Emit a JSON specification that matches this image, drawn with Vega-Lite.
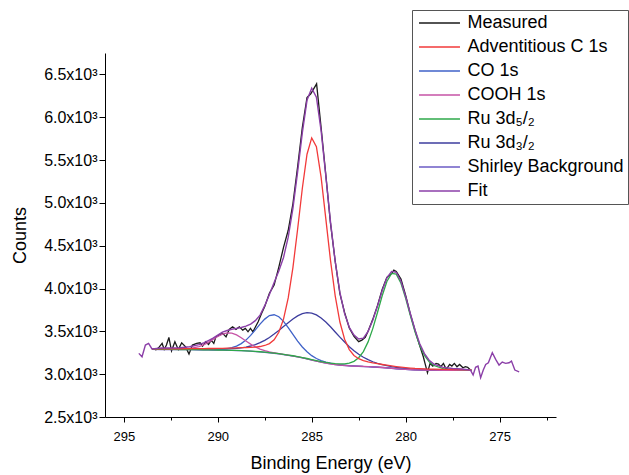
{
  "$schema": "https://vega.github.io/schema/vega-lite/v6.json",
  "width": 451,
  "height": 364,
  "autosize": {"type": "none"},
  "padding": {"left": 105, "top": 53, "right": 73, "bottom": 58},
  "background": "white",
  "config": {
    "view": {"stroke": null},
    "font": "Liberation Sans",
    "axis": {"domainColor": "#000", "tickColor": "#000", "labelColor": "#000", "titleColor": "#000", "labelFont": "Liberation Sans", "titleFont": "Liberation Sans", "titleFontWeight": "normal", "grid": false, "domainWidth": 1, "tickWidth": 1, "labelFlush": false, "labelOverlap": false, "labelBound": false},
    "axisY": {
      "values": [2500, 2750, 3000, 3250, 3500, 3750, 4000, 4250, 4500, 4750, 5000, 5250, 5500, 5750, 6000, 6250, 6500, 6750],
      "labelExpr": "datum.value % 500 === 0 ? format(datum.value / 1000, '.1f') + 'x10³' : ''",
      "tickSize": {"condition": {"test": "datum.value % 500 === 0", "value": 6}, "value": 3},
      "labelFontSize": 16, "labelPadding": 2,
      "titleFontSize": 18, "titleX": -76, "titleBaseline": "bottom"
    },
    "legend": {"labelFont": "Liberation Sans"}
  },
  "datasets": {
    "meas": [
      {"x": 293.32, "y": 3281}, {"x": 293.15, "y": 3308}, {"x": 292.96, "y": 3359}, {"x": 292.85, "y": 3289}, {"x": 292.73, "y": 3340}, {"x": 292.6, "y": 3429}, {"x": 292.46, "y": 3273}, {"x": 292.28, "y": 3378}, {"x": 292.1, "y": 3289}, {"x": 291.92, "y": 3366}, {"x": 291.71, "y": 3319}, {"x": 291.53, "y": 3234}, {"x": 291.35, "y": 3340}, {"x": 291.12, "y": 3359}, {"x": 290.94, "y": 3366}, {"x": 290.81, "y": 3328}, {"x": 290.64, "y": 3378}, {"x": 290.49, "y": 3347}, {"x": 290.35, "y": 3398}, {"x": 290.21, "y": 3359}, {"x": 290.1, "y": 3436}, {"x": 289.92, "y": 3456}, {"x": 289.74, "y": 3476}, {"x": 289.56, "y": 3436}, {"x": 289.39, "y": 3523}, {"x": 289.21, "y": 3553}, {"x": 289.03, "y": 3523}, {"x": 288.85, "y": 3553}, {"x": 288.67, "y": 3514}, {"x": 288.53, "y": 3534}, {"x": 288.39, "y": 3495}, {"x": 288.26, "y": 3534}, {"x": 288.13, "y": 3495}, {"x": 287.99, "y": 3553}, {"x": 287.85, "y": 3611}, {"x": 287.67, "y": 3709},
      {"x": 287.5, "y": 3790}, {"x": 287.25, "y": 3945}, {"x": 287.0, "y": 4040}, {"x": 286.75, "y": 4250}, {"x": 286.5, "y": 4480}, {"x": 286.25, "y": 4680}, {"x": 286.0, "y": 4990}, {"x": 285.75, "y": 5420}, {"x": 285.5, "y": 5880}, {"x": 285.25, "y": 6230}, {"x": 285.05, "y": 6274}, {"x": 284.74, "y": 6390}, {"x": 284.5, "y": 5880}, {"x": 284.25, "y": 5330}, {"x": 284.0, "y": 4760}, {"x": 283.75, "y": 4320}, {"x": 283.5, "y": 3940}, {"x": 283.25, "y": 3720}, {"x": 283.0, "y": 3540}, {"x": 282.75, "y": 3440}, {"x": 282.5, "y": 3380}, {"x": 282.33, "y": 3398}, {"x": 282.15, "y": 3430}, {"x": 282.0, "y": 3500}, {"x": 281.75, "y": 3640}, {"x": 281.5, "y": 3800}, {"x": 281.25, "y": 3990}, {"x": 281.0, "y": 4130}, {"x": 280.75, "y": 4175}, {"x": 280.63, "y": 4214}, {"x": 280.5, "y": 4200}, {"x": 280.25, "y": 4110}, {"x": 280.0, "y": 3920}, {"x": 279.75, "y": 3700}, {"x": 279.5, "y": 3510}, {"x": 279.25, "y": 3330}, {"x": 279.06, "y": 3203},
      {"x": 278.97, "y": 3126}, {"x": 278.84, "y": 3017}, {"x": 278.7, "y": 3126}, {"x": 278.56, "y": 3095}, {"x": 278.38, "y": 3126}, {"x": 278.25, "y": 3118}, {"x": 278.13, "y": 3087}, {"x": 277.99, "y": 3126}, {"x": 277.84, "y": 3056}, {"x": 277.66, "y": 3114}, {"x": 277.54, "y": 3095}, {"x": 277.41, "y": 3126}, {"x": 277.27, "y": 3087}, {"x": 277.13, "y": 3114}, {"x": 276.95, "y": 3075}, {"x": 276.82, "y": 3087}, {"x": 276.7, "y": 3080}, {"x": 276.55, "y": 3048}
    ],
    "fit": [
      {"x": 294.2, "y": 3243}, {"x": 294.03, "y": 3203}, {"x": 293.85, "y": 3340}, {"x": 293.68, "y": 3359},
      {"x": 293.5, "y": 3295}, {"x": 293.0, "y": 3305}, {"x": 292.5, "y": 3306}, {"x": 292.0, "y": 3309}, {"x": 291.5, "y": 3320}, {"x": 291.0, "y": 3345}, {"x": 290.75, "y": 3365}, {"x": 290.5, "y": 3392}, {"x": 290.25, "y": 3420}, {"x": 290.0, "y": 3455}, {"x": 289.75, "y": 3490}, {"x": 289.5, "y": 3510}, {"x": 289.25, "y": 3525}, {"x": 289.0, "y": 3535}, {"x": 288.75, "y": 3545}, {"x": 288.5, "y": 3560}, {"x": 288.25, "y": 3585}, {"x": 288.0, "y": 3625}, {"x": 287.75, "y": 3690}, {"x": 287.5, "y": 3800}, {"x": 287.25, "y": 3930}, {"x": 287.0, "y": 4070}, {"x": 286.75, "y": 4204}, {"x": 286.5, "y": 4363}, {"x": 286.25, "y": 4600}, {"x": 286.0, "y": 4937}, {"x": 285.75, "y": 5363}, {"x": 285.5, "y": 5817}, {"x": 285.25, "y": 6198}, {"x": 285.0, "y": 6340}, {"x": 284.75, "y": 6234}, {"x": 284.5, "y": 5843}, {"x": 284.25, "y": 5317}, {"x": 284.0, "y": 4779}, {"x": 283.75, "y": 4314}, {"x": 283.5, "y": 3955}, {"x": 283.25, "y": 3707}, {"x": 283.0, "y": 3547}, {"x": 282.75, "y": 3457}, {"x": 282.5, "y": 3410}, {"x": 282.25, "y": 3420}, {"x": 282.0, "y": 3500}, {"x": 281.75, "y": 3630}, {"x": 281.5, "y": 3795}, {"x": 281.25, "y": 3975}, {"x": 281.0, "y": 4125}, {"x": 280.75, "y": 4200}, {"x": 280.5, "y": 4190}, {"x": 280.25, "y": 4085}, {"x": 280.0, "y": 3905}, {"x": 279.75, "y": 3705}, {"x": 279.5, "y": 3515}, {"x": 279.25, "y": 3355}, {"x": 279.0, "y": 3240}, {"x": 278.75, "y": 3163}, {"x": 278.5, "y": 3118}, {"x": 278.0, "y": 3080}, {"x": 277.5, "y": 3066}, {"x": 277.0, "y": 3060}, {"x": 276.55, "y": 3048},
      {"x": 276.41, "y": 2990}, {"x": 276.28, "y": 3080}, {"x": 276.15, "y": 3095}, {"x": 276.01, "y": 2958}, {"x": 275.87, "y": 3048}, {"x": 275.74, "y": 3114}, {"x": 275.6, "y": 3133}, {"x": 275.39, "y": 3250}, {"x": 275.21, "y": 3173}, {"x": 275.03, "y": 3106}, {"x": 274.86, "y": 3141}, {"x": 274.68, "y": 3126}, {"x": 274.5, "y": 3133}, {"x": 274.37, "y": 3153}, {"x": 274.19, "y": 3048}, {"x": 273.96, "y": 3028}
    ],
    "comp": [
      {"x": 293.5, "bg": 3289, "c": 3296, "co": 3290, "cooh": 3290, "r52": 3290, "r32": 3292},
      {"x": 293.0, "bg": 3288, "c": 3296, "co": 3290, "cooh": 3290, "r52": 3289, "r32": 3292},
      {"x": 292.5, "bg": 3288, "c": 3297, "co": 3290, "cooh": 3290, "r52": 3289, "r32": 3292},
      {"x": 292.0, "bg": 3287, "c": 3297, "co": 3289, "cooh": 3291, "r52": 3288, "r32": 3292},
      {"x": 291.5, "bg": 3286, "c": 3298, "co": 3289, "cooh": 3298, "r52": 3287, "r32": 3292},
      {"x": 291.0, "bg": 3285, "c": 3299, "co": 3288, "cooh": 3322, "r52": 3286, "r32": 3292},
      {"x": 290.75, "bg": 3284, "c": 3299, "co": 3288, "cooh": 3343, "r52": 3285, "r32": 3291},
      {"x": 290.5, "bg": 3283, "c": 3300, "co": 3287, "cooh": 3372, "r52": 3284, "r32": 3291},
      {"x": 290.25, "bg": 3282, "c": 3300, "co": 3288, "cooh": 3406, "r52": 3283, "r32": 3291},
      {"x": 290.0, "bg": 3281, "c": 3301, "co": 3289, "cooh": 3440, "r52": 3282, "r32": 3292},
      {"x": 289.75, "bg": 3280, "c": 3302, "co": 3292, "cooh": 3468, "r52": 3281, "r32": 3293},
      {"x": 289.5, "bg": 3279, "c": 3303, "co": 3298, "cooh": 3483, "r52": 3280, "r32": 3295},
      {"x": 289.25, "bg": 3278, "c": 3305, "co": 3309, "cooh": 3480, "r52": 3279, "r32": 3298},
      {"x": 289.0, "bg": 3276, "c": 3307, "co": 3327, "cooh": 3459, "r52": 3278, "r32": 3302},
      {"x": 288.75, "bg": 3274, "c": 3309, "co": 3357, "cooh": 3426, "r52": 3276, "r32": 3308},
      {"x": 288.5, "bg": 3271, "c": 3310, "co": 3398, "cooh": 3388, "r52": 3273, "r32": 3317},
      {"x": 288.25, "bg": 3268, "c": 3313, "co": 3453, "cooh": 3351, "r52": 3270, "r32": 3329},
      {"x": 288.0, "bg": 3264, "c": 3317, "co": 3517, "cooh": 3318, "r52": 3266, "r32": 3346},
      {"x": 287.75, "bg": 3260, "c": 3323, "co": 3584, "cooh": 3293, "r52": 3262, "r32": 3368},
      {"x": 287.5, "bg": 3255, "c": 3335, "co": 3643, "cooh": 3275, "r52": 3257, "r32": 3395},
      {"x": 287.25, "bg": 3250, "c": 3357, "co": 3684, "cooh": 3261, "r52": 3252, "r32": 3429},
      {"x": 287.0, "bg": 3244, "c": 3402, "co": 3694, "cooh": 3250, "r52": 3247, "r32": 3468},
      {"x": 286.75, "bg": 3237, "c": 3489, "co": 3671, "cooh": 3241, "r52": 3240, "r32": 3511},
      {"x": 286.5, "bg": 3229, "c": 3642, "co": 3617, "cooh": 3232, "r52": 3232, "r32": 3556},
      {"x": 286.25, "bg": 3220, "c": 3890, "co": 3544, "cooh": 3222, "r52": 3223, "r32": 3601},
      {"x": 286.0, "bg": 3211, "c": 4245, "co": 3464, "cooh": 3213, "r52": 3215, "r32": 3644},
      {"x": 285.75, "bg": 3201, "c": 4692, "co": 3386, "cooh": 3203, "r52": 3205, "r32": 3681},
      {"x": 285.5, "bg": 3190, "c": 5168, "co": 3317, "cooh": 3192, "r52": 3194, "r32": 3706},
      {"x": 285.25, "bg": 3178, "c": 5568, "co": 3261, "cooh": 3180, "r52": 3183, "r32": 3718},
      {"x": 285.0, "bg": 3165, "c": 5759, "co": 3216, "cooh": 3166, "r52": 3170, "r32": 3713},
      {"x": 284.75, "bg": 3152, "c": 5656, "co": 3183, "cooh": 3153, "r52": 3158, "r32": 3692},
      {"x": 284.5, "bg": 3140, "c": 5300, "co": 3159, "cooh": 3141, "r52": 3147, "r32": 3656},
      {"x": 284.25, "bg": 3129, "c": 4816, "co": 3141, "cooh": 3130, "r52": 3137, "r32": 3609},
      {"x": 284.0, "bg": 3120, "c": 4328, "co": 3128, "cooh": 3121, "r52": 3129, "r32": 3553},
      {"x": 283.75, "bg": 3112, "c": 3915, "co": 3118, "cooh": 3113, "r52": 3123, "r32": 3493},
      {"x": 283.5, "bg": 3106, "c": 3609, "co": 3110, "cooh": 3107, "r52": 3120, "r32": 3433},
      {"x": 283.25, "bg": 3101, "c": 3408, "co": 3105, "cooh": 3102, "r52": 3121, "r32": 3375},
      {"x": 283.0, "bg": 3097, "c": 3287, "co": 3100, "cooh": 3098, "r52": 3129, "r32": 3321},
      {"x": 282.75, "bg": 3094, "c": 3218, "co": 3097, "cooh": 3095, "r52": 3150, "r32": 3273},
      {"x": 282.5, "bg": 3092, "c": 3181, "co": 3095, "cooh": 3093, "r52": 3192, "r32": 3232},
      {"x": 282.25, "bg": 3089, "c": 3158, "co": 3091, "cooh": 3090, "r52": 3264, "r32": 3197},
      {"x": 282.0, "bg": 3087, "c": 3144, "co": 3089, "cooh": 3088, "r52": 3377, "r32": 3169},
      {"x": 281.75, "bg": 3084, "c": 3132, "co": 3086, "cooh": 3085, "r52": 3532, "r32": 3145},
      {"x": 281.5, "bg": 3081, "c": 3122, "co": 3083, "cooh": 3082, "r52": 3720, "r32": 3127},
      {"x": 281.25, "bg": 3077, "c": 3113, "co": 3079, "cooh": 3078, "r52": 3916, "r32": 3111},
      {"x": 281.0, "bg": 3073, "c": 3105, "co": 3075, "cooh": 3074, "r52": 4082, "r32": 3099},
      {"x": 280.75, "bg": 3068, "c": 3097, "co": 3070, "cooh": 3069, "r52": 4176, "r32": 3088},
      {"x": 280.5, "bg": 3063, "c": 3089, "co": 3065, "cooh": 3064, "r52": 4168, "r32": 3079},
      {"x": 280.25, "bg": 3059, "c": 3082, "co": 3061, "cooh": 3060, "r52": 4062, "r32": 3072},
      {"x": 280.0, "bg": 3055, "c": 3076, "co": 3057, "cooh": 3056, "r52": 3886, "r32": 3066},
      {"x": 279.75, "bg": 3052, "c": 3071, "co": 3054, "cooh": 3053, "r52": 3683, "r32": 3061},
      {"x": 279.5, "bg": 3050, "c": 3067, "co": 3051, "cooh": 3051, "r52": 3491, "r32": 3058},
      {"x": 279.25, "bg": 3049, "c": 3065, "co": 3050, "cooh": 3050, "r52": 3334, "r32": 3056},
      {"x": 279.0, "bg": 3048, "c": 3063, "co": 3049, "cooh": 3049, "r52": 3220, "r32": 3055},
      {"x": 278.75, "bg": 3047, "c": 3060, "co": 3048, "cooh": 3048, "r52": 3145, "r32": 3053},
      {"x": 278.5, "bg": 3046, "c": 3058, "co": 3047, "cooh": 3047, "r52": 3101, "r32": 3052},
      {"x": 278.0, "bg": 3045, "c": 3056, "co": 3046, "cooh": 3046, "r52": 3065, "r32": 3050},
      {"x": 277.5, "bg": 3044, "c": 3053, "co": 3045, "cooh": 3045, "r52": 3055, "r32": 3048},
      {"x": 277.0, "bg": 3044, "c": 3052, "co": 3045, "cooh": 3045, "r52": 3052, "r32": 3048},
      {"x": 276.5, "bg": 3044, "c": 3051, "co": 3045, "cooh": 3045, "r52": 3050, "r32": 3047}
    ]
  },
  "encoding": {
    "x": {
      "field": "x", "type": "quantitative",
      "scale": {"domain": [272, 296], "reverse": true, "nice": false, "zero": false},
      "axis": {
        "title": "Binding Energy (eV)",
        "values": [295, 292.5, 290, 287.5, 285, 282.5, 280, 277.5, 275, 272.5],
        "labelExpr": "datum.value % 5 === 0 ? format(datum.value, 'd') : ''",
        "tickSize": {"condition": {"test": "datum.value % 5 === 0", "value": 5}, "value": 3},
        "labelFontSize": 13, "labelPadding": 8,
        "titleFontSize": 18, "titleY": 37, "titleBaseline": "top"
      }
    }
  },
  "layer": [
    {
      "data": {"name": "meas"},
      "mark": {"type": "line", "strokeWidth": 1.3},
      "encoding": {
        "y": {"field": "y", "type": "quantitative", "title": "Counts", "scale": {"domain": [2500, 6750], "nice": false, "zero": false}},
        "color": {
          "datum": "Measured", "type": "nominal",
          "scale": {
            "domain": ["Measured", "Adventitious C 1s", "CO 1s", "COOH 1s", "Ru 3d₅/₂", "Ru 3d₃/₂", "Shirley Background", "Fit"],
            "range": ["#1a1a1a", "#f23a3a", "#3f62c8", "#c653a6", "#2ea84a", "#3d3d9e", "#6b5bc4", "#8b3fa8"]
          },
          "legend": {
            "orient": "none", "legendX": 307, "legendY": -43, "title": null,
            "symbolType": "M-2.56,0H2.56", "symbolSize": 256, "symbolStrokeWidth": 1.5,
            "symbolOffset": 14.5, "labelOffset": 19,
            "labelFontSize": 18, "labelColor": "#000", "labelLimit": 400,
            "strokeColor": "#555", "fillColor": "white", "padding": 4, "rowPadding": 6
          }
        }
      }
    },
    {
      "data": {"name": "comp"},
      "mark": {"type": "line", "strokeWidth": 1.3},
      "encoding": {
        "y": {"field": "bg", "type": "quantitative", "title": "Counts", "scale": {"domain": [2500, 6750], "nice": false, "zero": false}},
        "color": {"datum": "Shirley Background", "type": "nominal"}
      }
    },
    {
      "data": {"name": "comp"},
      "mark": {"type": "line", "strokeWidth": 1.3},
      "encoding": {
        "y": {"field": "r32", "type": "quantitative", "title": "Counts", "scale": {"domain": [2500, 6750], "nice": false, "zero": false}},
        "color": {"datum": "Ru 3d₃/₂", "type": "nominal"}
      }
    },
    {
      "data": {"name": "comp"},
      "mark": {"type": "line", "strokeWidth": 1.3},
      "encoding": {
        "y": {"field": "co", "type": "quantitative", "title": "Counts", "scale": {"domain": [2500, 6750], "nice": false, "zero": false}},
        "color": {"datum": "CO 1s", "type": "nominal"}
      }
    },
    {
      "data": {"name": "comp"},
      "mark": {"type": "line", "strokeWidth": 1.3},
      "encoding": {
        "y": {"field": "cooh", "type": "quantitative", "title": "Counts", "scale": {"domain": [2500, 6750], "nice": false, "zero": false}},
        "color": {"datum": "COOH 1s", "type": "nominal"}
      }
    },
    {
      "data": {"name": "comp"},
      "mark": {"type": "line", "strokeWidth": 1.3},
      "encoding": {
        "y": {"field": "r52", "type": "quantitative", "title": "Counts", "scale": {"domain": [2500, 6750], "nice": false, "zero": false}},
        "color": {"datum": "Ru 3d₅/₂", "type": "nominal"}
      }
    },
    {
      "data": {"name": "comp"},
      "mark": {"type": "line", "strokeWidth": 1.3},
      "encoding": {
        "y": {"field": "c", "type": "quantitative", "title": "Counts", "scale": {"domain": [2500, 6750], "nice": false, "zero": false}},
        "color": {"datum": "Adventitious C 1s", "type": "nominal"}
      }
    },
    {
      "data": {"name": "fit"},
      "mark": {"type": "line", "strokeWidth": 1.4},
      "encoding": {
        "y": {"field": "y", "type": "quantitative", "title": "Counts", "scale": {"domain": [2500, 6750], "nice": false, "zero": false}},
        "color": {"datum": "Fit", "type": "nominal"}
      }
    }
  ]
}
